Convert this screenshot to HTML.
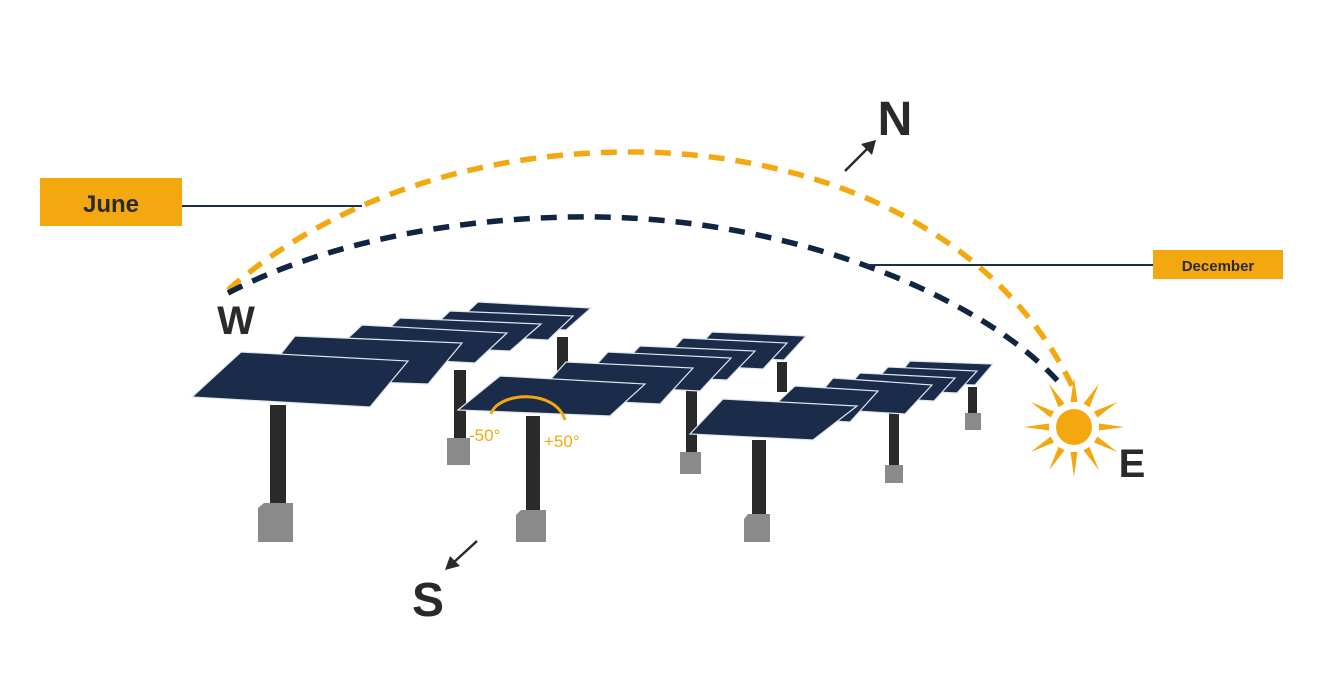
<!DOCTYPE html>
<html><head><meta charset="utf-8"><style>
html,body{margin:0;padding:0;background:#fff;}
svg{display:block;}
text{font-family:"Liberation Sans",sans-serif;}
</style></head><body>
<svg width="1320" height="700" viewBox="0 0 1320 700" xmlns="http://www.w3.org/2000/svg">
<rect width="1320" height="700" fill="#fff"/>
<!-- arcs -->
<path d="M228,290 C330,200 480,150 640,152 C820,155 1000,230 1075,392" fill="none" stroke="#f4a80f" stroke-width="5.5" stroke-dasharray="16,11"/>
<path d="M228,293 C330,240 470,215 600,217 C800,220 990,300 1064,388" fill="none" stroke="#0f2542" stroke-width="5.5" stroke-dasharray="16,11"/>
<!-- labels -->
<rect x="40" y="178" width="142" height="48" fill="#f4a80f"/>
<text x="111" y="212" text-anchor="middle" font-size="24" font-weight="bold" fill="#2a2a2a">June</text>
<line x1="182" y1="206" x2="362" y2="206" stroke="#1c2e4a" stroke-width="2"/>
<rect x="1153" y="250" width="130" height="29" fill="#f4a80f"/>
<text x="1218" y="271" text-anchor="middle" font-size="15" font-weight="bold" fill="#2a2a2a">December</text>
<line x1="866" y1="265" x2="1153" y2="265" stroke="#1c2e4a" stroke-width="2"/>
<!-- compass -->
<text x="895" y="135" text-anchor="middle" font-size="48" font-weight="bold" fill="#2a2a2a">N</text>
<line x1="845" y1="171" x2="868" y2="148" stroke="#2a2a2a" stroke-width="2.5"/>
<polygon points="876,140 872,155 861,144" fill="#2a2a2a"/>
<text x="428" y="616" text-anchor="middle" font-size="48" font-weight="bold" fill="#2a2a2a">S</text>
<line x1="477" y1="541" x2="453" y2="563" stroke="#2a2a2a" stroke-width="2.5"/>
<polygon points="445,570 450,556 460,566" fill="#2a2a2a"/>
<text x="236" y="334" text-anchor="middle" font-size="40" font-weight="bold" fill="#2a2a2a">W</text>
<text x="1132" y="477" text-anchor="middle" font-size="40" font-weight="bold" fill="#2a2a2a">E</text>
<!-- sun -->
<g transform="translate(1074,427)" fill="#f4a80f">
<circle r="18"/>
<g id="ray"><polygon points="-3.5,-25 3.5,-25 0,-50"/></g>
<use href="#ray" transform="rotate(30)"/><use href="#ray" transform="rotate(60)"/><use href="#ray" transform="rotate(90)"/>
<use href="#ray" transform="rotate(120)"/><use href="#ray" transform="rotate(150)"/><use href="#ray" transform="rotate(180)"/>
<use href="#ray" transform="rotate(210)"/><use href="#ray" transform="rotate(240)"/><use href="#ray" transform="rotate(270)"/>
<use href="#ray" transform="rotate(300)"/><use href="#ray" transform="rotate(330)"/>
</g>
<g stroke="#dfe6ee" stroke-width="1.2" fill="#1b2c4b">
<!-- row 1 back to front -->
<rect x="557" y="337" width="11" height="34" fill="#2a2a2a" stroke="none"/>
<polygon points="478,302 591,308 566,330 455,324"/>
<polygon points="450,311 573,316 548,340 426,334"/>
<rect x="454" y="370" width="12" height="68" fill="#2a2a2a" stroke="none"/>
<rect x="447" y="438" width="23" height="27" fill="#8a8a8a" stroke="none"/>
<polygon points="400,318 541,324 510,351 372,345"/>
<polygon points="362,325 507,333 475,363 330,355"/>
<polygon points="295,336 462,343 428,384 262,378"/>
<rect x="270" y="405" width="16" height="98" fill="#2a2a2a" stroke="none"/>
<polygon points="258,508 264,503 293,503 293,542 258,542" fill="#8a8a8a" stroke="none"/>
<polygon points="241,352 408,361 370,407 192,397"/>
<!-- row 2 -->
<rect x="777" y="362" width="10" height="30" fill="#2a2a2a" stroke="none"/>
<polygon points="712,332 806,336 784,360 690,356"/>
<polygon points="683,338 787,343 763,369 660,364"/>
<polygon points="640,346 755,351 727,380 612,375"/>
<rect x="686" y="390" width="11" height="62" fill="#2a2a2a" stroke="none"/>
<rect x="680" y="452" width="21" height="22" fill="#8a8a8a" stroke="none"/>
<polygon points="608,352 731,358 700,391 578,385"/>
<polygon points="566,362 693,368 660,404 534,398"/>
<rect x="526" y="416" width="14" height="94" fill="#2a2a2a" stroke="none"/>
<polygon points="516,515 521,510 546,510 546,542 516,542" fill="#8a8a8a" stroke="none"/>
<polygon points="500,376 645,384 610,416 458,410"/>
<!-- row 3 -->
<rect x="968" y="387" width="9" height="26" fill="#2a2a2a" stroke="none"/>
<rect x="965" y="413" width="16" height="17" fill="#8a8a8a" stroke="none"/>
<polygon points="910,361 993,364 975,385 893,382"/>
<polygon points="888,367 977,371 957,393 868,389"/>
<polygon points="860,373 955,378 934,401 840,396"/>
<rect x="889" y="410" width="10" height="55" fill="#2a2a2a" stroke="none"/>
<rect x="885" y="465" width="18" height="18" fill="#8a8a8a" stroke="none"/>
<polygon points="833,378 932,385 905,414 808,408"/>
<polygon points="795,386 878,391 850,422 762,417"/>
<rect x="752" y="440" width="14" height="74" fill="#2a2a2a" stroke="none"/>
<polygon points="744,519 748,514 770,514 770,542 744,542" fill="#8a8a8a" stroke="none"/>
<polygon points="723,399 857,406 813,440 690,434"/>
</g>
<!-- angle arc -->
<path d="M491,414 C498,392 555,388 565,420" fill="none" stroke="#f4a80f" stroke-width="3"/>
<text x="469" y="441" font-size="17" fill="#f4a80f">-50°</text>
<text x="544" y="447" font-size="17" fill="#f4a80f">+50°</text>
</svg>
</body></html>
